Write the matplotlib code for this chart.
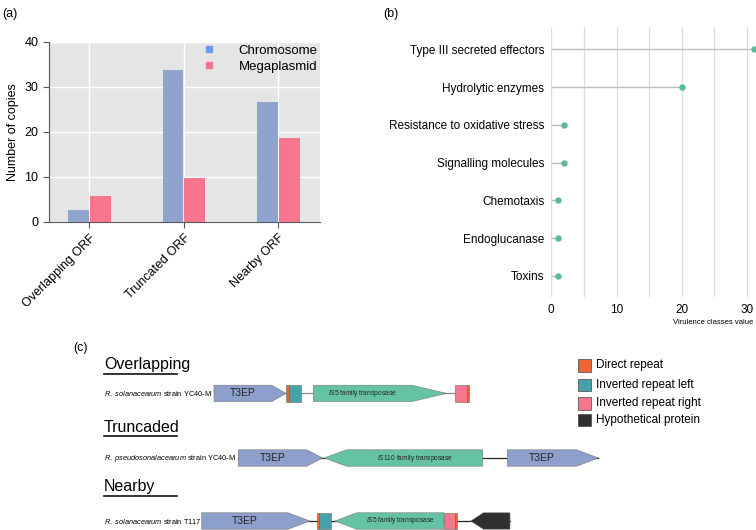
import matplotlib

matplotlib.use("Agg")
import matplotlib.pyplot as plt
from matplotlib.lines import Line2D
from matplotlib.patches import Polygon, Rectangle
import numpy as np

plt.rcParams["font.family"] = ["Liberation Sans", "DejaVu Sans"]
plt.rcParams["mathtext.fontset"] = "custom"
plt.rcParams["mathtext.rm"] = "Liberation Sans"
plt.rcParams["mathtext.it"] = "Liberation Sans:italic"

# (a) copies per insertion context
CONTEXTS = ["Overlapping ORF", "Truncated ORF", "Nearby ORF"]
CHROMOSOME = [2.7, 33.7, 26.7]
MEGAPLASMID = [5.7, 9.7, 18.7]

# (b) virulence classes
VIR_CLASSES = [
    "Type III secreted effectors",
    "Hydrolytic enzymes",
    "Resistance to oxidative stress",
    "Signalling molecules",
    "Chemotaxis",
    "Endoglucanase",
    "Toxins",
]
VIR_VALUES = [31, 20, 2, 2, 1, 1, 1]

# (c) gene neighbourhoods: (kind, start, end, strand, label)
ROW_TITLES = ["Overlapping", "Truncaded", "Nearby"]
ROW_STRAINS = [
    r"$\it{R.\ solanacearum}$ strain YC40-M",
    r"$\it{R.\ pseudosonalacearum}$ strain YC40-M",
    r"$\it{R.\ solanacearum}$ strain T117",
]
ROW_OVERLAPPING = [
    ("t3ep", 214, 286, 1, "T3EP"),
    ("dr", 286, 289.3, 0, ""),
    ("irl", 289.3, 300.7, 0, ""),
    ("tnp", 313.3, 446.7, 1, r"$\it{IS5}$ family transposase"),
    ("irr", 455, 466.7, 0, ""),
    ("dr", 466.7, 469.3, 0, ""),
]
ROW_TRUNCATED = [
    ("t3ep", 238.3, 322.7, 1, "T3EP"),
    ("tnp", 324, 482.7, -1, r"$\it{IS110}$ family transposase"),
    ("t3ep", 507.3, 598.3, 1, "T3EP"),
]
ROW_NEARBY = [
    ("t3ep", 201.7, 310, 1, "T3EP"),
    ("dr", 317.3, 318.9, 0, ""),
    ("irl", 318.9, 330.7, 0, ""),
    ("tnp", 335, 444, -1, r"$\it{IS5}$ family transposase"),
    ("irr", 444, 455.3, 0, ""),
    ("dr", 455.3, 457.3, 0, ""),
    ("hyp", 470.7, 510, -1, ""),
]
ARROW_HEADS = {"t3ep": [14.3, 16, 21.6, 22], "tnp": [35, 22.7, 21.7], "hyp": [12.6]}

LEGEND_KINDS = ["dr", "irl", "irr", "hyp"]
LEGEND_LABELS = ["Direct repeat", "Inverted repeat left", "Inverted repeat right", "Hypothetical protein"]

COLORS = {
    "chrom": "#8fa3cf",
    "mega": "#f7768e",
    "t3ep": "#8da0cb",
    "tnp": "#66c2a5",
    "dr": "#f2642f",
    "irl": "#45a2ab",
    "irr": "#f7768e",
    "hyp": "#2f2f2f",
}

fig = plt.figure(figsize=(7.56, 5.30), dpi=100)

# ---------------- panel (a)
ax = fig.add_axes([0.0644, 0.5817, 0.359, 0.3396])
ax.set_facecolor("#e5e5e5")
x = np.arange(len(CONTEXTS))
w = 0.22
ax.bar(x - w / 2 - 0.005, CHROMOSOME, width=w, color=COLORS["chrom"], zorder=3)
ax.bar(x + w / 2 + 0.005, MEGAPLASMID, width=w, color=COLORS["mega"], zorder=3)
ax.set_xlim(-0.43, 2.44)
ax.set_ylim(0, 40)
ax.set_yticks([0, 10, 20, 30, 40])
ax.set_xticks(x)
ax.set_xticklabels(CONTEXTS, rotation=45, ha="right", rotation_mode="anchor", fontsize=9)
ax.tick_params(axis="y", labelsize=9, length=4, color="#555555")
ax.tick_params(axis="x", length=4, color="#555555")
ax.grid(color="white", linewidth=1.0, zorder=0)
ax.set_axisbelow(True)
ax.set_ylabel("Number of copies", fontsize=9)
for s in ["top", "right"]:
    ax.spines[s].set_visible(False)
for s in ["left", "bottom"]:
    ax.spines[s].set_color("#555555")
handles = [
    Line2D([], [], marker="s", linestyle="none", color="#6b9bf0", markersize=4),
    Line2D([], [], marker="s", linestyle="none", color=COLORS["mega"], markersize=4),
]
ax.legend(handles, ["Chromosome", "Megaplasmid"], loc="upper right", frameon=False,
          fontsize=9.5, labelspacing=0.3, borderpad=0.1, borderaxespad=0.1,
          handletextpad=1.2)
fig.text(0.003, 0.985, "(a)", fontsize=9, va="top")

# ---------------- panel (b)
bx = fig.add_axes([0.7292, 0.4396, 0.2668, 0.5094])
yy = np.arange(len(VIR_CLASSES))
bx.hlines(yy, 0, VIR_VALUES, color="#bdbdbd", linewidth=1.0, zorder=2)
bx.plot(VIR_VALUES, yy, "o", color="#5bb899", markersize=3.6, zorder=3, clip_on=False)
bx.set_xlim(0, 30.9)
bx.set_ylim(6.56, -0.59)
bx.set_yticks(yy)
bx.set_yticklabels(VIR_CLASSES, fontsize=8.5)
bx.set_xticks([0, 10, 20, 30])
bx.set_xticks([5, 15, 25], minor=True)
bx.tick_params(axis="both", which="both", length=0, labelsize=8.5)
bx.tick_params(axis="y", pad=5)
bx.tick_params(axis="x", pad=5)
bx.grid(axis="x", which="both", color="#dcdcdc", linewidth=0.9, zorder=0)
for s in bx.spines.values():
    s.set_visible(False)
bx.set_xlabel("Virulence classes value", fontsize=5.5, loc="right", labelpad=2)
fig.text(0.507, 0.985, "(b)", fontsize=9, va="top")

# ---------------- panel (c)
cx = fig.add_axes([0, 0, 1, 200 / 530])
cx.set_xlim(0, 756)
cx.set_ylim(530, 330)
cx.axis("off")
cx.text(73, 348, "(c)", fontsize=9, va="center")

rows = [ROW_OVERLAPPING, ROW_TRUNCATED, ROW_NEARBY]
row_y = [393.4, 458, 521]
title_y = [369.5, 431.5, 491]
half = 8.2
head_iter = {k: iter(v) for k, v in ARROW_HEADS.items()}
for r, feats in enumerate(rows):
    yc = row_y[r]
    cx.text(104, title_y[r], ROW_TITLES[r], fontsize=11.5, va="baseline")
    cx.plot([104, 176.7], [title_y[r] + 4.7, title_y[r] + 4.7], color="#111111", linewidth=1.2)
    cx.text(104, yc + 0.5, ROW_STRAINS[r], fontsize=5.3, va="center")
    x0 = min(f[1] for f in feats)
    x1 = max(f[2] for f in feats)
    line_col = "#888888" if r == 0 else "#222222"
    cx.plot([x0, x1], [yc, yc], color=line_col, linewidth=0.9, zorder=1)
    for kind, start, end, strand, label in feats:
        col = COLORS[kind]
        if strand == 0:
            cx.add_patch(Rectangle((start, yc - half), end - start, 2 * half,
                                   facecolor=col, edgecolor="#666666", linewidth=0.4, zorder=3))
            continue
        head = next(head_iter[kind])
        if strand > 0:
            body_end = end - head
            pts = [(start, yc - half), (body_end, yc - half), (end, yc),
                   (body_end, yc + half), (start, yc + half)]
            body_mid = (start + body_end) / 2
        else:
            body_start = start + head
            pts = [(start, yc), (body_start, yc - half), (end, yc - half),
                   (end, yc + half), (body_start, yc + half)]
            body_mid = (body_start + end) / 2
        cx.add_patch(Polygon(pts, closed=True, facecolor=col, edgecolor="#777777",
                             linewidth=0.4, zorder=2))
        if label:
            fs = 7.5 if kind == "t3ep" else 4.8
            cx.text(body_mid, yc, label, fontsize=fs, ha="center", va="center",
                    color="#222222", zorder=4)

leg_y = [365.5, 385, 403.3, 420]
for kind, lab, ly in zip(LEGEND_KINDS, LEGEND_LABELS, leg_y):
    cx.add_patch(Rectangle((578.3, ly - 6.2), 12.7, 12.4, facecolor=COLORS[kind],
                           edgecolor="#444444", linewidth=0.5))
    cx.text(596, ly, lab, fontsize=8.5, va="center")

fig.savefig("out.png", dpi=100)
